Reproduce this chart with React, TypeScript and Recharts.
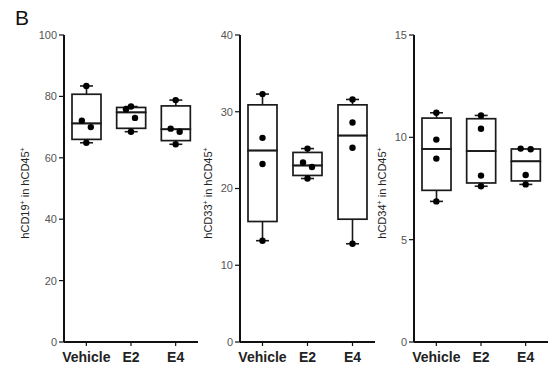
import React from 'react';
import { ComposedChart, Bar, Scatter, XAxis, YAxis } from 'recharts';

const FONT = "'Liberation Sans', Arial, Helvetica, sans-serif";
const GROUPS = ['Vehicle', 'E2', 'E4'];

// Panel 1: hCD19+ in hCD45+
const CD19_VEHICLE = [83.4, 72.1, 70.0, 64.9];
const CD19_E2 = [76.7, 75.8, 73.0, 68.5];
const CD19_E4 = [78.8, 69.5, 68.5, 64.4];
const CD19_Q1 = [66.0, 69.6, 65.6];
const CD19_MEDIAN = [71.2, 74.8, 69.3];
const CD19_Q3 = [80.7, 76.4, 76.9];
const CD19_TICKS = [0, 20, 40, 60, 80, 100];

// Panel 2: hCD33+ in hCD45+
const CD33_VEHICLE = [32.3, 26.6, 23.2, 13.2];
const CD33_E2 = [25.2, 23.4, 22.8, 21.3];
const CD33_E4 = [31.6, 28.6, 25.3, 12.8];
const CD33_Q1 = [15.7, 21.7, 16.0];
const CD33_MEDIAN = [24.95, 23.0, 26.9];
const CD33_Q3 = [30.9, 24.7, 30.9];
const CD33_TICKS = [0, 10, 20, 30, 40];

// Panel 3: hCD34+ in hCD45+
const CD34_VEHICLE = [11.2, 9.89, 8.96, 6.87];
const CD34_E2 = [11.07, 10.42, 8.13, 7.61];
const CD34_E4 = [9.45, 9.42, 8.16, 7.7];
const CD34_Q1 = [7.41, 7.77, 7.87];
const CD34_MEDIAN = [9.43, 9.33, 8.83];
const CD34_Q3 = [10.94, 10.91, 9.43];
const CD34_TICKS = [0, 5, 10, 15];

// horizontal jitter (px) of the dots, style only
const CD19_DOT_DX = [[0, -4.5, 4.5, 0], [0, -5, 4, 0], [0, -5, 4, 0]];
const CD33_DOT_DX = [[0, 0, 0, 0], [0, -4.5, 4.5, 0], [0, 0, 0, 0]];
const CD34_DOT_DX = [[0, 0, 0, 0], [0, 0, 0, 0], [-5, 5, 0, 0]];

const STROKE = '#1a1a1a';

function buildRows(points: number[][], q1: number[], med: number[], q3: number[]) {
  return GROUPS.map((g, i) => {
    const pts = points[i];
    const mn = Math.min(...pts);
    const mx = Math.max(...pts);
    return {
      group: g,
      base: mn,
      wLow: q1[i] - mn,
      bLow: med[i] - q1[i],
      bHigh: q3[i] - med[i],
      wHigh: mx - q3[i],
      d0: pts[0],
      d1: pts[1],
      d2: pts[2],
      d3: pts[3],
    };
  });
}

const EmptyShape = () => <g />;

const BoxShape = (p: any) => {
  const top = Math.min(p.y, p.y + p.height);
  const h = Math.abs(p.height);
  return (
    <rect x={p.x} y={top} width={p.width} height={h} fill="none" stroke={STROKE} strokeWidth={1.7} />
  );
};

const WhiskerLow = (p: any) => {
  const top = Math.min(p.y, p.y + p.height);
  const h = Math.abs(p.height);
  if (h < 0.5) return <g />;
  const cx = p.x + p.width / 2;
  return (
    <g>
      <line x1={cx} x2={cx} y1={top} y2={top + h} stroke={STROKE} strokeWidth={1.6} />
      <line x1={cx - 6.5} x2={cx + 6.5} y1={top + h} y2={top + h} stroke={STROKE} strokeWidth={1.6} />
    </g>
  );
};

const WhiskerHigh = (p: any) => {
  const top = Math.min(p.y, p.y + p.height);
  const h = Math.abs(p.height);
  if (h < 0.5) return <g />;
  const cx = p.x + p.width / 2;
  return (
    <g>
      <line x1={cx} x2={cx} y1={top} y2={top + h} stroke={STROKE} strokeWidth={1.6} />
      <line x1={cx - 6.5} x2={cx + 6.5} y1={top} y2={top} stroke={STROKE} strokeWidth={1.6} />
    </g>
  );
};

function makeDot(dx: number[][], k: number) {
  return (p: any) => {
    const gi = GROUPS.indexOf(p.payload?.group);
    const off = gi >= 0 ? dx[gi][k] : 0;
    const cx = p.cx != null ? p.cx : p.x + (p.width || 0) / 2;
    const cy = p.cy != null ? p.cy : p.y + (p.height || 0) / 2;
    return <circle cx={cx + off} cy={cy} r={3.2} fill="#000" />;
  };
}

type PanelProps = {
  left: number;
  width: number;
  yAxisWidth: number;
  marginRight: number;
  points: number[][];
  q1: number[];
  med: number[];
  q3: number[];
  ticks: number[];
  dx: number[][];
};

function Panel({ left, width, yAxisWidth, marginRight, points, q1, med, q3, ticks, dx }: PanelProps) {
  const rows = buildRows(points, q1, med, q3);
  const yMax = ticks[ticks.length - 1];
  return (
    <div style={{ position: 'absolute', left, top: 0, width, height: 373 }}>
      <ComposedChart
        width={width}
        height={373}
        data={rows}
        margin={{ top: 35, right: marginRight, bottom: 6, left: 0 }}
        barSize={29}
      >
        <XAxis
          dataKey="group"
          type="category"
          allowDuplicatedCategory={false}
          interval={0}
          height={25}
          tickSize={4}
          tickMargin={6}
          stroke="#111"
          axisLine={{ stroke: '#111', strokeWidth: 2 }}
          tickLine={{ stroke: '#111', strokeWidth: 1.2 }}
          tick={{ fontSize: 14, fontWeight: 'bold', fill: '#222', stroke: 'none', fontFamily: FONT }}
        />
        <YAxis
          type="number"
          domain={[0, yMax]}
          ticks={ticks}
          allowDataOverflow
          width={yAxisWidth}
          tickSize={5}
          tickMargin={2}
          stroke="#111"
          axisLine={{ stroke: '#111', strokeWidth: 2 }}
          tickLine={{ stroke: '#111', strokeWidth: 1.2 }}
          tick={{ fontSize: 11, fill: '#555', stroke: 'none', fontFamily: FONT }}
        />
        <Bar dataKey="base" stackId="box" shape={EmptyShape} isAnimationActive={false} />
        <Bar dataKey="wLow" stackId="box" shape={WhiskerLow} isAnimationActive={false} />
        <Bar dataKey="bLow" stackId="box" shape={BoxShape} isAnimationActive={false} />
        <Bar dataKey="bHigh" stackId="box" shape={BoxShape} isAnimationActive={false} />
        <Bar dataKey="wHigh" stackId="box" shape={WhiskerHigh} isAnimationActive={false} />
        {[0, 1, 2, 3].map((k) => (
          <Scatter key={k} dataKey={`d${k}`} shape={makeDot(dx, k)} isAnimationActive={false} />
        ))}
      </ComposedChart>
    </div>
  );
}

function YLabel({ x, y, name }: { x: number; y: number; name: string }) {
  return (
    <text
      x={x}
      y={y}
      transform={`rotate(-90 ${x} ${y})`}
      textAnchor="middle"
      fontFamily={FONT}
      fontSize={11}
      fill="#222"
    >
      <tspan>{name}</tspan>
      <tspan dy={-4} fontSize={7}>+</tspan>
      <tspan dy={4}> in hCD45</tspan>
      <tspan dy={-4} fontSize={7}>+</tspan>
    </text>
  );
}

export default function App() {
  return (
    <div style={{ position: 'absolute', left: 0, top: 0, width: 548, height: 373, background: '#fff', overflow: 'hidden' }}>
      <Panel
        left={0}
        width={200}
        yAxisWidth={64}
        marginRight={2}
        points={[CD19_VEHICLE, CD19_E2, CD19_E4]}
        q1={CD19_Q1}
        med={CD19_MEDIAN}
        q3={CD19_Q3}
        ticks={CD19_TICKS}
        dx={CD19_DOT_DX}
      />
      <Panel
        left={180}
        width={196}
        yAxisWidth={60}
        marginRight={1}
        points={[CD33_VEHICLE, CD33_E2, CD33_E4]}
        q1={CD33_Q1}
        med={CD33_MEDIAN}
        q3={CD33_Q3}
        ticks={CD33_TICKS}
        dx={CD33_DOT_DX}
      />
      <Panel
        left={354}
        width={194}
        yAxisWidth={60}
        marginRight={0}
        points={[CD34_VEHICLE, CD34_E2, CD34_E4]}
        q1={CD34_Q1}
        med={CD34_MEDIAN}
        q3={CD34_Q3}
        ticks={CD34_TICKS}
        dx={CD34_DOT_DX}
      />
      <svg width={548} height={373} style={{ position: 'absolute', left: 0, top: 0, pointerEvents: 'none' }}>
        <text x={15} y={25} fontFamily={FONT} fontSize={21} fill="#111">B</text>
        <YLabel x={29} y={193} name="hCD19" />
        <YLabel x={212} y={193} name="hCD33" />
        <YLabel x={385.5} y={193} name="hCD34" />
      </svg>
    </div>
  );
}
